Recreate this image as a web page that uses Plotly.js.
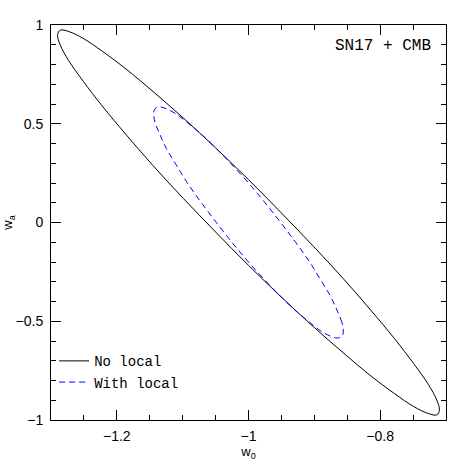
<!DOCTYPE html>
<html>
<head>
<meta charset="utf-8">
<script src="https://cdn.plot.ly/plotly-3.0.1.min.js"></script>
<style>
  html, body { margin: 0; padding: 0; background: #fff; }
  #chart { width: 471px; height: 471px; }
</style>
</head>
<body>
<div id="chart"></div>
<script>
// contour points (w0, wa)
const noLocalW0 = [-0.710, -0.714, -0.727, -0.749, -0.778, -0.814, -0.855, -0.901, -0.950, -1.000,
  -1.050, -1.099, -1.145, -1.186, -1.222, -1.251, -1.273, -1.286, -1.290, -1.286, -1.273, -1.251,
  -1.222, -1.186, -1.145, -1.099, -1.050, -1.000, -0.950, -0.901, -0.855, -0.814, -0.778, -0.749,
  -0.727, -0.714, -0.710];
const noLocalWa = [-0.951, -0.899, -0.819, -0.715, -0.589, -0.445, -0.288, -0.122, 0.048, 0.217,
  0.378, 0.529, 0.663, 0.777, 0.867, 0.932, 0.967, 0.974, 0.951, 0.899, 0.819, 0.715,
  0.589, 0.445, 0.288, 0.122, -0.048, -0.217, -0.378, -0.529, -0.663, -0.777, -0.867, -0.932,
  -0.967, -0.974, -0.951];

const withLocalW0 = [-0.856, -0.858, -0.865, -0.875, -0.890, -0.907, -0.928, -0.951, -0.975, -1.000,
  -1.025, -1.049, -1.072, -1.093, -1.110, -1.125, -1.135, -1.142, -1.144, -1.142, -1.135, -1.125,
  -1.110, -1.093, -1.072, -1.049, -1.025, -1.000, -0.975, -0.951, -0.928, -0.907, -0.890, -0.875,
  -0.865, -0.858, -0.856];
const withLocalWa = [-0.550, -0.507, -0.449, -0.376, -0.293, -0.201, -0.102, -0.001, 0.101, 0.200,
  0.292, 0.375, 0.448, 0.506, 0.550, 0.576, 0.585, 0.576, 0.550, 0.507, 0.449, 0.376,
  0.293, 0.201, 0.102, 0.001, -0.101, -0.200, -0.292, -0.375, -0.448, -0.506, -0.550, -0.576,
  -0.585, -0.576, -0.550];

const seriesNames = ["No local", "With local"];
const panelLabel = "SN17 + CMB";

const monoFont = '"Courier New", "Liberation Mono", monospace';
const tickFont = { family: 'Arial, "Liberation Sans", sans-serif', size: 14, color: '#000' };

var traceNoLocal = {
    x: noLocalW0,
    y: noLocalWa,
    mode: 'lines',
    type: 'scatter',
    name: seriesNames[0],
    line: { color: 'black', width: 1, shape: 'spline', smoothing: 1 },
    hoverinfo: 'skip'
};
var traceWithLocal = {
    x: withLocalW0,
    y: withLocalWa,
    mode: 'lines',
    type: 'scatter',
    name: seriesNames[1],
    line: { color: 'blue', width: 1, dash: '6px,4px', shape: 'spline', smoothing: 1 },
    hoverinfo: 'skip'
};

// shared axis look: box frame, inward ticks on all sides
function axisStyle(extra) {
    return Object.assign({
        showline: true,
        linecolor: 'black',
        linewidth: 1,
        mirror: 'allticks',
        ticks: 'inside',
        ticklen: 10,
        tickwidth: 1,
        tickcolor: 'black',
        showgrid: false,
        zeroline: false,
        tickfont: tickFont,
        fixedrange: true
    }, extra);
}

var layout = {
    width: 471,
    height: 471,
    margin: { l: 51, r: 25, t: 25, b: 51 },
    paper_bgcolor: 'white',
    plot_bgcolor: 'white',
    showlegend: true,
    legend: {
        x: 0.008, y: 0.055, xanchor: 'left', yanchor: 'bottom',
        bgcolor: 'rgba(0,0,0,0)',
        itemwidth: 30,
        tracegroupgap: 0,
        font: { family: monoFont, size: 14, color: 'black' }
    },
    xaxis: axisStyle({
        range: [-1.3, -0.7],
        tick0: -1.2,
        dtick: 0.2,
        minor: { dtick: 0.05, ticks: 'inside', ticklen: 5, tickcolor: 'black', showgrid: false },
        ticklabelstandoff: 3,
        title: { text: 'w<sub>0</sub>', font: { family: 'Arial, sans-serif', size: 13, color: 'black' }, standoff: 0 }
    }),
    yaxis: axisStyle({
        range: [-1, 1],
        tick0: 0,
        dtick: 0.5,
        minor: { dtick: 0.1, ticks: 'inside', ticklen: 5, tickcolor: 'black', showgrid: false },
        ticklabelstandoff: 4,
        title: { text: 'w<sub>a</sub>', font: { family: 'Arial, sans-serif', size: 13, color: 'black' }, standoff: 4 }
    }),
    annotations: [{
        text: panelLabel,
        xref: 'paper', yref: 'paper',
        x: 0.967, y: 0.947,
        xanchor: 'right', yanchor: 'middle',
        showarrow: false,
        font: { family: monoFont, size: 16, color: 'black' }
    }]
};

Plotly.newPlot('chart', [traceNoLocal, traceWithLocal], layout, { displayModeBar: false, staticPlot: true });
</script>
</body>
</html>
